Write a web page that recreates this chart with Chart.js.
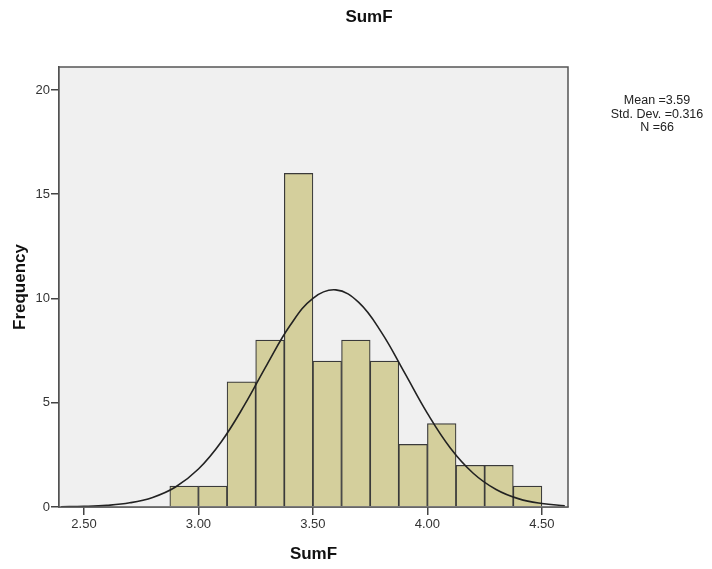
<!DOCTYPE html>
<html>
<head>
<meta charset="utf-8">
<script src="https://cdn.jsdelivr.net/npm/chart.js@4/dist/chart.umd.min.js"></script>
<style>
  html, body { margin: 0; padding: 0; background: #fff; }
  #wrap { width: 712px; height: 569px; position: relative; }
</style>
</head>
<body>
<div id="wrap"><canvas id="chart"></canvas></div>
<script>
// histogram bins (centres, width 0.125) and counts
const binCenters = [2.9375, 3.0625, 3.1875, 3.3125, 3.4375, 3.5625, 3.6875, 3.8125, 3.9375, 4.0625, 4.1875, 4.3125, 4.4375];
const frequencies = [1, 1, 6, 8, 16, 7, 8, 7, 3, 4, 2, 2, 1];

// normal curve
const curveX = [2.40, 2.50, 2.60, 2.70, 2.80, 2.90, 3.00, 3.10, 3.20, 3.30, 3.40, 3.50, 3.60, 3.70, 3.80, 3.90, 4.00, 4.10, 4.20, 4.30, 4.40, 4.50, 4.60];
const curveY = [0.01, 0.03, 0.08, 0.20, 0.46, 0.96, 1.82, 3.13, 4.87, 6.84, 8.70, 10.01, 10.41, 9.81, 8.36, 6.44, 4.49, 2.83, 1.62, 0.84, 0.39, 0.17, 0.06];

const xTicks = [2.5, 3.0, 3.5, 4.0, 4.5];
const yTicks = [0, 5, 10, 15, 20];
const chartTitle = 'SumF';
const xTitle = 'SumF';
const yTitle = 'Frequency';
const statsLines = ['Mean =3.59', 'Std. Dev. =0.316', 'N =66'];

const FONT = "'Liberation Sans', Arial, sans-serif";

const frame = {
  id: 'frame',
  beforeDatasetsDraw(chart) {
    const { ctx, chartArea: a } = chart;
    ctx.save();
    ctx.fillStyle = '#f0f0f0';
    ctx.fillRect(a.left, a.top, a.right - a.left, a.bottom - a.top);
    ctx.restore();
  },
  afterDraw(chart) {
    const { ctx, chartArea: a } = chart;
    ctx.save();
    ctx.strokeStyle = '#555';
    ctx.lineWidth = 1.5;
    ctx.strokeRect(a.left, a.top, a.right - a.left, a.bottom - a.top);

    ctx.fillStyle = '#111';
    ctx.textAlign = 'center';
    ctx.textBaseline = 'middle';
    ctx.font = 'bold 17px ' + FONT;
    ctx.fillText(chartTitle, 369, 17);

    ctx.font = '12.5px ' + FONT;
    ctx.fillStyle = '#222';
    statsLines.forEach((t, i) => ctx.fillText(t, 657, 101 + i * 13.5));
    ctx.restore();
  }
};

const ctx = document.getElementById('chart');
new Chart(ctx, {
  type: 'bar',
  data: {
    datasets: [
      {
        type: 'line',
        data: curveX.map((x, i) => ({ x: x, y: curveY[i] })),
        borderColor: '#222',
        borderWidth: 1.6,
        pointRadius: 0,
        tension: 0.4,
        fill: false,
        order: 0
      },
      {
        type: 'bar',
        data: binCenters.map((x, i) => ({ x: x, y: frequencies[i] })),
        backgroundColor: '#d4cf9c',
        borderColor: '#3a3a3a',
        borderWidth: 1.2,
        categoryPercentage: 1.0,
        barPercentage: 1.0,
        order: 1
      }
    ]
  },
  options: {
    responsive: true,
    maintainAspectRatio: false,
    animation: false,
    layout: { padding: { top: 67, right: 144, left: 0, bottom: 0 } },
    plugins: {
      legend: { display: false },
      tooltip: { enabled: false },
      title: { display: false }
    },
    scales: {
      x: {
        type: 'linear',
        offset: false,
        min: 2.391,
        max: 4.614,
        afterBuildTicks: s => { s.ticks = xTicks.map(v => ({ value: v })); },
        afterFit: s => { s.height = 62; },
        ticks: {
          color: '#333',
          font: { family: FONT, size: 13 },
          padding: 2,
          callback: v => Number(v).toFixed(2)
        },
        grid: { offset: false, drawOnChartArea: false, drawTicks: true, tickLength: 8, color: '#444', lineWidth: 1.5 },
        border: { display: true, color: '#444', width: 1.5 },
        title: {
          display: true,
          text: xTitle,
          color: '#111',
          font: { family: FONT, size: 17, weight: 'bold' },
          padding: { top: 0, bottom: 4 }
        }
      },
      y: {
        min: 0,
        max: 21.1,
        afterBuildTicks: s => { s.ticks = yTicks.map(v => ({ value: v })); },
        afterFit: s => { s.width = 59; },
        ticks: {
          color: '#333',
          font: { family: FONT, size: 13 },
          padding: 1
        },
        grid: { drawOnChartArea: false, drawTicks: true, tickLength: 8, color: '#444', lineWidth: 1.5 },
        border: { display: true, color: '#444', width: 1.5 },
        title: {
          display: true,
          text: yTitle,
          color: '#111',
          font: { family: FONT, size: 17, weight: 'bold' },
          padding: { top: 10, bottom: 0 }
        }
      }
    }
  },
  plugins: [frame]
});
</script>
</body>
</html>
